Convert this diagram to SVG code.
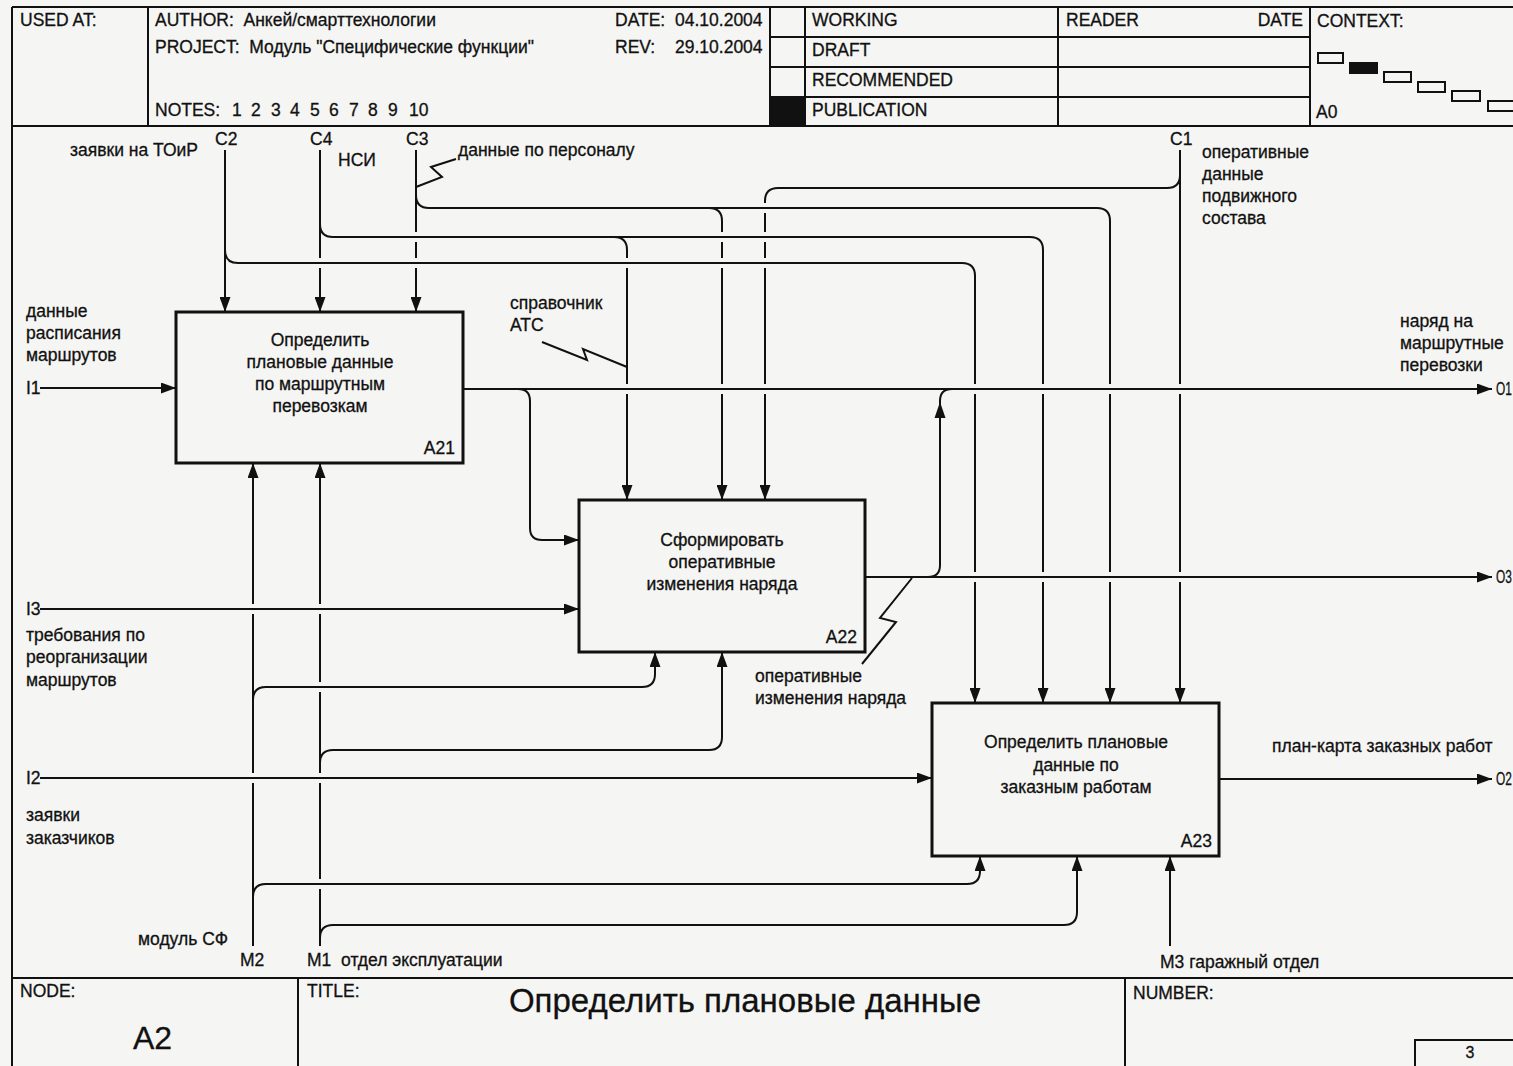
<svg xmlns="http://www.w3.org/2000/svg" width="1513" height="1066" viewBox="0 0 1513 1066">
  <style>
    .t { font-family: "Liberation Sans", Arial, sans-serif; font-size: 17.5px; fill: #111; stroke: #111; stroke-width: 0.3px; white-space: pre; }
    .c { text-anchor: middle; }
    .r { text-anchor: end; }
    .frame { fill: none; stroke: #111; stroke-width: 2; }
    .box { fill: none; stroke: #111; stroke-width: 3; }
    .ln { fill: none; stroke: #111; stroke-width: 2; }
    .arr { marker-end: url(#ah); }
  </style>
  <defs>
    <marker id="ah" viewBox="0 0 15 11" refX="15" refY="5.5" markerWidth="15" markerHeight="11" markerUnits="userSpaceOnUse" orient="auto">
      <path d="M0,0 L15,5.5 L0,11 z" fill="#111"/>
    </marker>
  </defs>

  <rect width="1513" height="1066" fill="#f5f5f3"/>

  <!-- form frame: header, diagram area border, footer -->
  <g id="frame">
    <path class="frame" d="M12,7 H1513 M12,7 V1066 M12,126 H1513 M12,978 H1513"/>
    <path class="frame" d="M148,7 V126 M770,7 V126 M805,7 V126 M1058,7 V126 M1310,7 V126"/>
    <path class="frame" d="M770,37 H1310 M770,67 H1310 M770,97 H1310"/>
    <rect x="771" y="97" width="34" height="29" fill="#111"/>
    <text class="t" x="20" y="26">USED AT:</text>
    <text class="t" x="155" y="26">AUTHOR:  Анкей/смарттехнологии</text>
    <text class="t" x="155" y="53">PROJECT:  Модуль "Специфические функции"</text>
    <text class="t" x="155" y="116">NOTES:</text>
    <g class="t">
      <text class="t" x="232" y="116">1</text>
      <text class="t" x="251" y="116">2</text>
      <text class="t" x="271" y="116">3</text>
      <text class="t" x="290" y="116">4</text>
      <text class="t" x="310" y="116">5</text>
      <text class="t" x="329" y="116">6</text>
      <text class="t" x="349" y="116">7</text>
      <text class="t" x="368" y="116">8</text>
      <text class="t" x="388" y="116">9</text>
      <text class="t" x="409" y="116">10</text>
    </g>
    <text class="t" x="615" y="26">DATE:</text>
    <text class="t" x="675" y="26">04.10.2004</text>
    <text class="t" x="615" y="53">REV:</text>
    <text class="t" x="675" y="53">29.10.2004</text>
    <text class="t" x="812" y="26">WORKING</text>
    <text class="t" x="812" y="56">DRAFT</text>
    <text class="t" x="812" y="86">RECOMMENDED</text>
    <text class="t" x="812" y="116">PUBLICATION</text>
    <text class="t" x="1066" y="26">READER</text>
    <text class="t r" x="1303" y="26">DATE</text>
    <text class="t" x="1317" y="27">CONTEXT:</text>
    <text class="t" x="1316" y="118">A0</text>
    <!-- context map -->
    <g stroke="#111" stroke-width="2" fill="none">
      <rect x="1318" y="53" width="25" height="10"/>
      <rect x="1350" y="63" width="27" height="10" fill="#111"/>
      <rect x="1384" y="72" width="27" height="10"/>
      <rect x="1418" y="82" width="27" height="10"/>
      <rect x="1452" y="91" width="28" height="10"/>
      <rect x="1488" y="101" width="28" height="10"/>
    </g>
    <!-- footer -->
    <path class="frame" d="M298,978 V1066 M1125,978 V1066 M1415,1066 V1040 H1513"/>
    <text class="t" x="20" y="997">NODE:</text>
    <text class="t" x="307" y="997">TITLE:</text>
    <text class="t" x="1133" y="999">NUMBER:</text>
    <text class="t" x="133" y="1049" style="font-size:32px">A2</text>
    <text class="t c" x="745" y="1012" style="font-size:33px">Определить плановые данные</text>
    <text class="t c" x="1470" y="1058" style="font-size:16px">3</text>
  </g>

  <!-- activity boxes -->
  <g id="A21">
    <rect class="box" x="176" y="312" width="287" height="151"/>
    <text class="t c" x="320" y="346">Определить</text>
    <text class="t c" x="320" y="368">плановые данные</text>
    <text class="t c" x="320" y="390">по маршрутным</text>
    <text class="t c" x="320" y="412">перевозкам</text>
    <text class="t r" x="455" y="454">A21</text>
  </g>
  <g id="A22">
    <rect class="box" x="579" y="500" width="286" height="152"/>
    <text class="t c" x="722" y="546">Сформировать</text>
    <text class="t c" x="722" y="568">оперативные</text>
    <text class="t c" x="722" y="590">изменения наряда</text>
    <text class="t r" x="857" y="643">A22</text>
  </g>
  <g id="A23">
    <rect class="box" x="932" y="703" width="287" height="153"/>
    <text class="t c" x="1076" y="748">Определить плановые</text>
    <text class="t c" x="1076" y="771">данные по</text>
    <text class="t c" x="1076" y="793">заказным работам</text>
    <text class="t r" x="1212" y="847">A23</text>
  </g>

  <!-- arrows -->
  <g id="connectors">
    <!-- C2 -->
    <path class="ln arr" d="M225,150 V312"/>
    <path class="ln arr" d="M225,250 Q225,263 238,263 H962 Q975,263 975,276 V384 M975,394 V572 M975,582 V703"/>
    <!-- C4 -->
    <path class="ln arr" d="M320,150 V258 M320,268 V312"/>
    <path class="ln arr" d="M320,224 Q320,237 333,237 H614 Q627,237 627,250 V258 M627,268 V384 M627,394 V500"/>
    <path class="ln arr" d="M614,237 H1030 Q1043,237 1043,250 V384 M1043,394 V572 M1043,582 V703"/>
    <!-- C3 -->
    <path class="ln arr" d="M416,150 V232 M416,242 V258 M416,268 V312"/>
    <path class="ln arr" d="M416,195 Q416,208 429,208 H709 Q722,208 722,221 V232 M722,242 V258 M722,268 V384 M722,394 V500"/>
    <path class="ln arr" d="M709,208 H1097 Q1110,208 1110,221 V384 M1110,394 V572 M1110,582 V703"/>
    <path class="ln" d="M416,187 L442,177 L431,167 L456,159"/>
    <!-- C1 -->
    <path class="ln arr" d="M1180,150 V384 M1180,394 V572 M1180,582 V703"/>
    <path class="ln arr" d="M1180,175 Q1180,188 1167,188 H778 Q765,188 765,201 V203 M765,213 V232 M765,242 V258 M765,268 V384 M765,394 V500"/>
    <!-- I1, I3, I2 -->
    <path class="ln arr" d="M40,388 H176"/>
    <path class="ln arr" d="M40,609 H579"/>
    <path class="ln arr" d="M40,778 H932"/>
    <!-- O1 and its branch into A22 -->
    <path class="ln arr" d="M463,389 H1492"/>
    <path class="ln arr" d="M518,389 Q530,389 530,401 V528 Q530,540 542,540 H579"/>
    <path class="ln" d="M542,342 L587,360 L583,349 L627,367"/>
    <!-- O3 and its join into O1 -->
    <path class="ln arr" d="M865,577 H1492"/>
    <path class="ln" d="M928,577 Q940,577 940,565 V401 Q940,389 952,389"/>
    <path d="M940,402 L934.5,418 L945.5,418 z" fill="#111"/>
    <path class="ln" d="M862,664 L896,622 L880,618 L912,578"/>
    <!-- O2 -->
    <path class="ln arr" d="M1219,779 H1492"/>
    <!-- M2 -->
    <path class="ln arr" d="M253,946 V783 M253,773 V614 M253,604 V463"/>
    <path class="ln arr" d="M253,700 Q253,687 266,687 H642 Q655,687 655,674 V652"/>
    <path class="ln arr" d="M253,897 Q253,884 266,884 H967 Q980,884 980,871 V856"/>
    <!-- M1 -->
    <path class="ln arr" d="M320,946 V889 M320,879 V783 M320,773 V692 M320,682 V614 M320,604 V463"/>
    <path class="ln arr" d="M320,763 Q320,750 333,750 H709 Q722,750 722,737 V652"/>
    <path class="ln arr" d="M320,938 Q320,925 333,925 H1064 Q1077,925 1077,912 V856"/>
    <!-- M3 -->
    <path class="ln arr" d="M1170,946 V856"/>
  </g>

  <!-- arrow labels -->
  <g id="labels">
    <text class="t" x="70" y="156">заявки на ТОиР</text>
    <text class="t" x="215" y="145">C2</text>
    <text class="t" x="310" y="145">C4</text>
    <text class="t" x="406" y="145">C3</text>
    <text class="t" x="1170" y="145">C1</text>
    <text class="t" x="338" y="166">НСИ</text>
    <text class="t" x="458" y="156">данные по персоналу</text>
    <text class="t" x="1202" y="158">оперативные</text>
    <text class="t" x="1202" y="180">данные</text>
    <text class="t" x="1202" y="202">подвижного</text>
    <text class="t" x="1202" y="224">состава</text>
    <text class="t" x="26" y="317">данные</text>
    <text class="t" x="26" y="339">расписания</text>
    <text class="t" x="26" y="361">маршрутов</text>
    <text class="t" x="26" y="394">I1</text>
    <text class="t" x="510" y="309">справочник</text>
    <text class="t" x="510" y="331">АТС</text>
    <text class="t" x="1400" y="327">наряд на</text>
    <text class="t" x="1400" y="349">маршрутные</text>
    <text class="t" x="1400" y="371">перевозки</text>
    <text class="t" transform="translate(1496,395) scale(0.68,1)">O1</text>
    <text class="t" x="26" y="615">I3</text>
    <text class="t" x="26" y="641">требования по</text>
    <text class="t" x="26" y="663">реорганизации</text>
    <text class="t" x="26" y="686">маршрутов</text>
    <text class="t" transform="translate(1496,583) scale(0.68,1)">O3</text>
    <text class="t" x="755" y="682">оперативные</text>
    <text class="t" x="755" y="704">изменения наряда</text>
    <text class="t" x="1272" y="752">план-карта заказных работ</text>
    <text class="t" x="26" y="784">I2</text>
    <text class="t" transform="translate(1496,785) scale(0.68,1)">O2</text>
    <text class="t" x="26" y="821">заявки</text>
    <text class="t" x="26" y="844">заказчиков</text>
    <text class="t" x="138" y="945">модуль СФ</text>
    <text class="t" x="240" y="966">M2</text>
    <text class="t" x="307" y="966">M1  отдел эксплуатации</text>
    <text class="t" x="1160" y="968">M3 гаражный отдел</text>
  </g>
</svg>
